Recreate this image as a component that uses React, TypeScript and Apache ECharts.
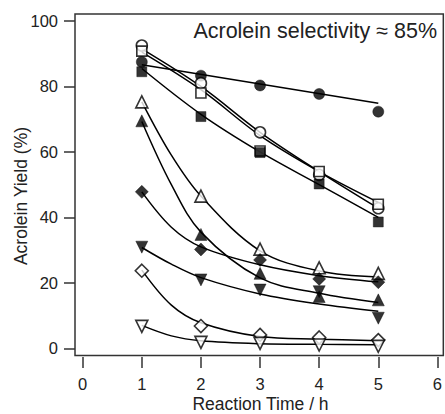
import React, { useEffect, useRef } from "react";
import * as echarts from "echarts";

const xTicks = [0, 1, 2, 3, 4, 5, 6];
const yTicks = [0, 20, 40, 60, 80, 100];
const times = [1, 2, 3, 4, 5];

// measured points
const filledCircle = [87.5, 83.3, 80.3, 77.7, 72.3];
const openCircle = [92.5, 81, 66, 53, 42.8];
const openSquare = [90.8, 78, 60.3, 54, 44];
const filledSquare = [84.5, 70.8, 59.8, 50.2, 38.6];
const openTriUp = [75.3, 46.5, 30.3, 24.6, 22.9];
const filledTriUp = [69.5, 34.8, 22.9, 15.8, 14.8];
const filledDiamond = [47.8, 30.2, 27.0, 21.2, 20.2];
const filledTriDown = [30.9, 20.9, 17.8, 17.3, 9.2];
const openDiamond = [23.7, 6.8, 4.1, 3.3, 2.5];
const openTriDown = [6.7, 1.8, 1.5, 1.0, 0.6];

// fitted curves
const fitTimesLinear = [1, 5];
const filledCircleFit = [86.6, 74.9];
const fitTimesUpper = [1, 2, 3, 4, 5];
const openCircleFit = [91.5, 80, 66, 54, 42.8];
const openSquareFit = [90.5, 79, 65, 54, 44.6];
const filledSquareFit = [85.5, 71.5, 60, 50, 40];
const fitTimesLower = [1, 1.5, 2, 3, 4, 5];
const openTriUpFit = [75.3, 59, 46.5, 29.8, 23.6, 21.8];
const filledTriUpFit = [69.3, 50, 35.5, 21.5, 16.8, 14.0];
const filledDiamondFit = [47.8, 37, 31, 25.5, 22.2, 20.3];
const filledTriDownFit = [30.8, 25.7, 21.6, 16.6, 13.5, 11.3];
const openDiamondFit = [23.9, 13.2, 7.8, 3.6, 2.8, 2.3];
const openTriDownFit = [7.0, 3.8, 2.3, 1.4, 1.2, 1.1];

const FONT = "'Liberation Sans', Arial, Helvetica, sans-serif";
const INK = "#222";

type MarkerDef = {
  name: string;
  values: number[];
  symbol: string;
  filled: boolean;
  size: number | number[];
  rotate?: number;
  fitX: number[];
  fitY: number[];
};

const markerDefs: MarkerDef[] = [
  { name: "fc", values: filledCircle, symbol: "circle", filled: true, size: 11, fitX: fitTimesLinear, fitY: filledCircleFit },
  { name: "oc", values: openCircle, symbol: "circle", filled: false, size: 11, fitX: fitTimesUpper, fitY: openCircleFit },
  { name: "os", values: openSquare, symbol: "rect", filled: false, size: 10, fitX: fitTimesUpper, fitY: openSquareFit },
  { name: "fs", values: filledSquare, symbol: "rect", filled: true, size: 10, fitX: fitTimesUpper, fitY: filledSquareFit },
  { name: "otu", values: openTriUp, symbol: "triangle", filled: false, size: 12, fitX: fitTimesLower, fitY: openTriUpFit },
  { name: "ftu", values: filledTriUp, symbol: "triangle", filled: true, size: 12, fitX: fitTimesLower, fitY: filledTriUpFit },
  { name: "fd", values: filledDiamond, symbol: "diamond", filled: true, size: 13, fitX: fitTimesLower, fitY: filledDiamondFit },
  { name: "ftd", values: filledTriDown, symbol: "triangle", filled: true, size: 12, rotate: 180, fitX: fitTimesLower, fitY: filledTriDownFit },
  { name: "od", values: openDiamond, symbol: "diamond", filled: false, size: 13, fitX: fitTimesLower, fitY: openDiamondFit },
  { name: "otd", values: openTriDown, symbol: "triangle", filled: false, size: 12, rotate: 180, fitX: fitTimesLower, fitY: openTriDownFit },
];

export default function App() {
  const ref = useRef<HTMLDivElement>(null);

  useEffect(() => {
    if (!ref.current) return;
    const chart = echarts.init(ref.current, undefined, { renderer: "svg" });

    const lineSeries = markerDefs.map((d) => ({
      type: "line",
      name: d.name + "-fit",
      data: d.fitX.map((x, i) => [x, d.fitY[i]]),
      showSymbol: false,
      smooth: d.fitX.length > 2 ? 0.35 : false,
      lineStyle: { color: "#000", width: 1.5 },
      z: 2,
      silent: true,
    }));

    const scatterSeries = markerDefs.map((d) => ({
      type: "scatter",
      name: d.name,
      data: times.map((x, i) => [x, d.values[i]]),
      symbol: d.symbol,
      symbolSize: d.size,
      symbolRotate: d.rotate || 0,
      itemStyle: d.filled
        ? { color: "#000", borderColor: "#000", borderWidth: 0.5 }
        : { color: "#fff", borderColor: "#000", borderWidth: 1.6 },
      z: 3,
      silent: true,
    }));

    chart.setOption({
      animation: false,
      grid: {
        left: 75,
        top: 14,
        right: 1.5,
        bottom: 58.5,
        show: true,
        borderColor: "#333",
        borderWidth: 1.5,
        backgroundColor: "transparent",
      },
      xAxis: {
        type: "value",
        min: -0.13,
        max: 6.1,
        offset: 1.5,
        axisLine: { show: false, onZero: false },
        splitLine: { show: false },
        axisTick: {
          show: true,
          inside: false,
          length: 11,
          customValues: xTicks,
          lineStyle: { color: "#333", width: 1.5 },
        },
        axisLabel: {
          customValues: xTicks,
          margin: 18,
          color: INK,
          fontSize: 16.5,
          fontFamily: FONT,
        },
      },
      yAxis: {
        type: "value",
        min: -2.2,
        max: 102.14,
        axisLine: { show: false, onZero: false },
        splitLine: { show: false },
        axisTick: {
          show: true,
          inside: false,
          length: 11,
          customValues: yTicks,
          lineStyle: { color: "#333", width: 1.5 },
        },
        axisLabel: {
          customValues: yTicks,
          margin: 17,
          color: INK,
          fontSize: 16.5,
          fontFamily: FONT,
        },
      },
      graphic: [
        {
          type: "text",
          x: 437,
          y: 31,
          style: {
            text: "Acrolein selectivity \u2248 85%",
            fill: INK,
            font: `21.5px ${FONT}`,
            align: "right",
            verticalAlign: "middle",
          },
        },
        {
          type: "text",
          x: 260.5,
          y: 404,
          style: {
            text: "Reaction Time / h",
            fill: INK,
            font: `17.5px ${FONT}`,
            align: "center",
            verticalAlign: "middle",
          },
        },
        {
          type: "text",
          x: 21,
          y: 196,
          rotation: Math.PI / 2,
          style: {
            text: "Acrolein Yield (%)",
            fill: INK,
            font: `17.5px ${FONT}`,
            align: "center",
            verticalAlign: "middle",
          },
        },
      ],
      series: [...lineSeries, ...scatterSeries],
    });

    return () => chart.dispose();
  }, []);

  return (
    <div
      ref={ref}
      style={{ position: "absolute", left: 0, top: 0, width: 445, height: 414 }}
    />
  );
}
